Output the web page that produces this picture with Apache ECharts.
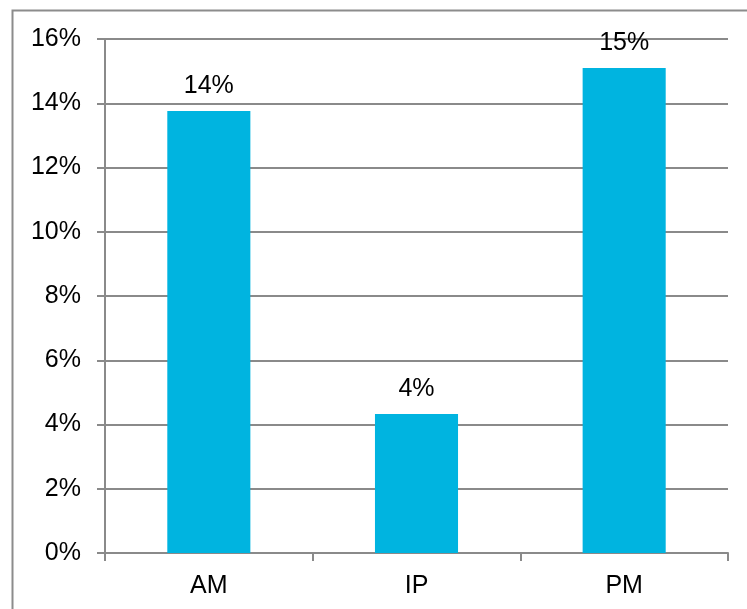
<!DOCTYPE html>
<html>
<head>
<meta charset="utf-8">
<script src="https://cdn.jsdelivr.net/npm/echarts@6/dist/echarts.min.js"></script>
<style>
  html, body { margin: 0; padding: 0; background: #fff; }
  #chart { width: 747px; height: 609px; }
</style>
</head>
<body>
<div id="chart"></div>
<script>
// Share by time period (percent)
const categories = ['AM', 'IP', 'PM'];
const shares = [13.76, 4.33, 15.10];
const yTicks = { min: 0, max: 16, step: 2 };

const FONT = '"Liberation Sans", Arial, sans-serif';
const GRID_GRAY = '#8a8a8a';
const FONT_SIZE = 25;

const chart = echarts.init(document.getElementById('chart'), null, { renderer: 'canvas' });

chart.setOption({
  animation: false,
  backgroundColor: '#ffffff',
  textStyle: { fontFamily: FONT },
  graphic: [{
    type: 'rect',
    shape: { x: 12.5, y: 10.5, width: 760, height: 640 },
    style: { fill: 'none', stroke: '#8c8c8c', lineWidth: 2 },
    silent: true,
    z: 0
  }],
  grid: { left: 105, right: 19, top: 39, bottom: 56 },
  xAxis: {
    type: 'category',
    data: categories,
    boundaryGap: true,
    axisLine: { show: true, lineStyle: { color: GRID_GRAY, width: 2 } },
    axisTick: { show: true, length: 8, alignWithLabel: false, lineStyle: { color: GRID_GRAY, width: 2 } },
    axisLabel: { color: '#000', fontSize: FONT_SIZE, fontFamily: FONT, margin: 21 },
    splitLine: { show: false }
  },
  yAxis: {
    type: 'value',
    min: yTicks.min,
    max: yTicks.max,
    interval: yTicks.step,
    axisLine: { show: true, lineStyle: { color: GRID_GRAY, width: 2 } },
    axisTick: { show: true, length: 8, inside: false, lineStyle: { color: GRID_GRAY, width: 2 } },
    axisLabel: {
      color: '#000', fontSize: FONT_SIZE, fontFamily: FONT, margin: 24,
      formatter: v => v + '%'
    },
    splitLine: { show: true, lineStyle: { color: GRID_GRAY, width: 2 } }
  },
  series: [{
    type: 'bar',
    data: shares,
    barWidth: '40%',
    itemStyle: { color: '#00B4E0' },
    label: {
      show: true,
      position: 'top',
      distance: 12,
      color: '#000',
      fontSize: FONT_SIZE,
      fontFamily: FONT,
      formatter: p => Math.round(p.value) + '%'
    },
    z: 3
  }]
});
</script>
</body>
</html>
